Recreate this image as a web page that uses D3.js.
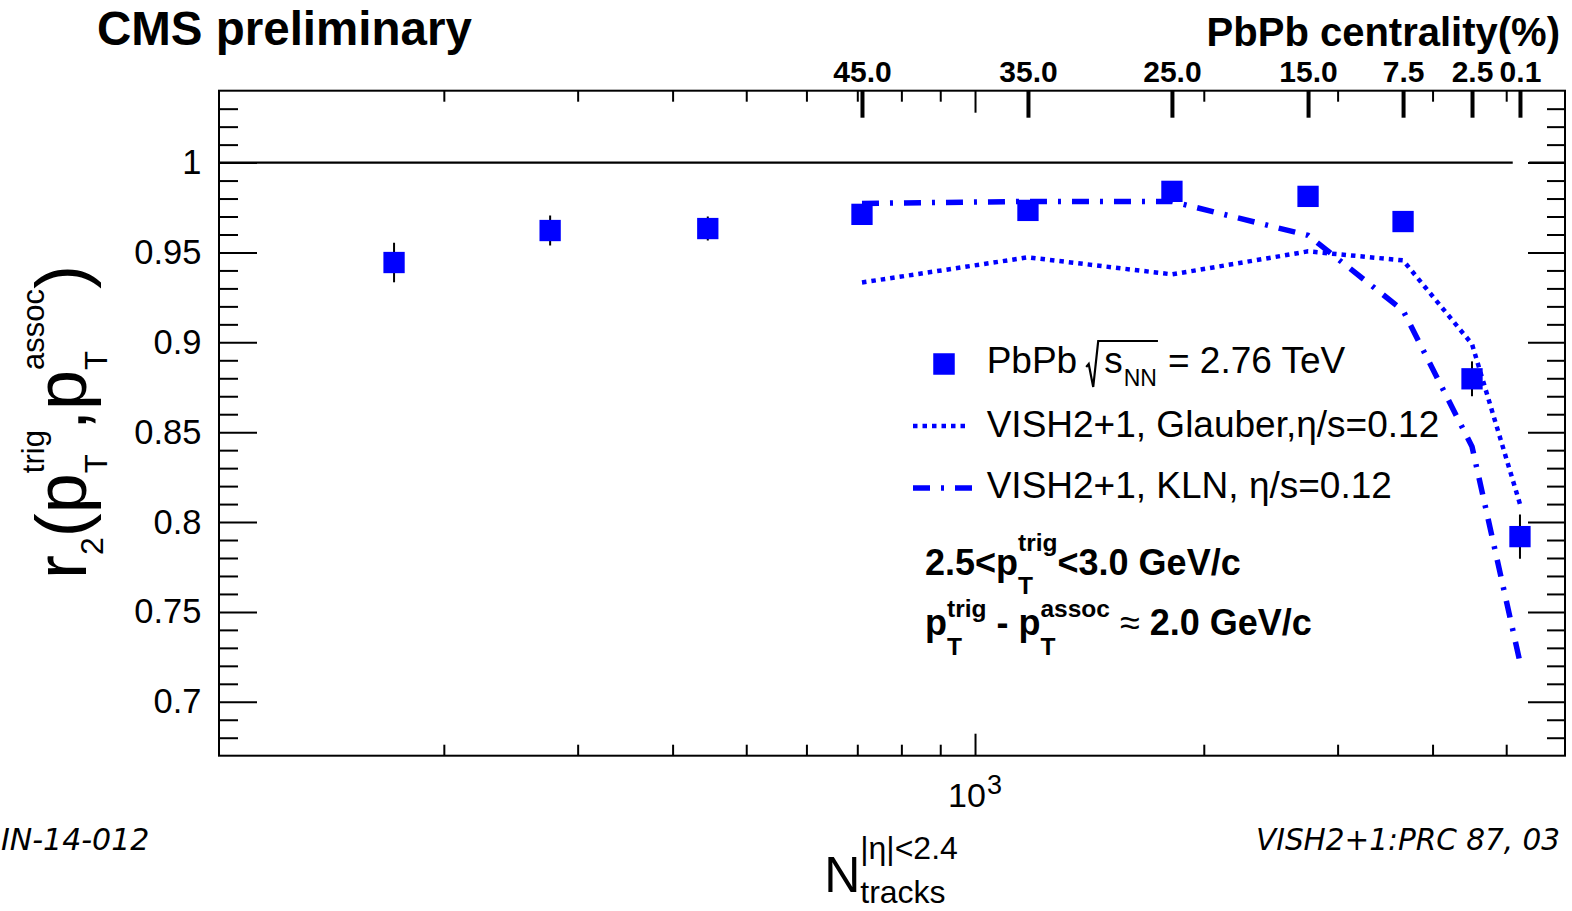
<!DOCTYPE html>
<html><head><meta charset="utf-8">
<script src="https://cdn.jsdelivr.net/npm/d3@7"></script>
<style>html,body{margin:0;padding:0;background:#fff;} svg{display:block;}</style>
</head><body><svg id="c" width="1572" height="911"></svg>
<script>
// ---------------- data ----------------
const nTracks   = [172, 276, 445, 710, 1174, 1816, 2743, 3658, 4508, 5213];
const r2Values  = [0.9444, 0.9622, 0.9633, 0.9712, 0.9734, 0.9840, 0.9812, 0.9672, 0.8797, 0.7919];
const r2Errors  = [0.011, 0.0083, 0.0067, 0.004, 0.004, 0.004, 0.004, 0.004, 0.0097, 0.0123];
const modelN        = [710, 1174, 1816, 2743, 3658, 4508, 5213];
const glauberValues = [0.9333, 0.9473, 0.9378, 0.9506, 0.9456, 0.899, 0.810];
const klnValues     = [0.9773, 0.9784, 0.9784, 0.9595, 0.9177, 0.842, 0.722];
const centralityN      = [710, 1174, 1816, 2743, 3658, 4508, 5213];
const centralityLabels = ["45.0", "35.0", "25.0", "15.0", "7.5", "2.5", "0.1"];
const xMinorTicks = [200, 300, 400, 500, 600, 700, 800, 900, 2000, 3000, 4000, 5000];
const xMajorTicks = [1000];
const yMajorTicks = [0.7, 0.75, 0.8, 0.85, 0.9, 0.95, 1];
const yTickLabels = ["0.7", "0.75", "0.8", "0.85", "0.9", "0.95", "1"];
const yMinorTicks = d3.range(68, 104).filter(v => v % 5 !== 0).map(v => v / 100);
const xDomain = [101.2, 5975];
const yDomain = [0.67, 1.04];
const unitySegments = [[101.2, 5100], [5360, 5975]];

// ---------------- layout ----------------
const FONT = '"Liberation Sans", Arial, Helvetica, sans-serif';
const FOOT = '"DejaVu Sans", sans-serif';
const BLUE = '#0000ff';
const L = 219, R = 1565, T = 90.7, B = 755.7;
const svg = d3.select('#c');
svg.append('rect').attr('width', 1572).attr('height', 911).attr('fill', '#fff');

const x = d3.scaleLog().domain(xDomain).range([L, R]);
const y = d3.scaleLinear().domain(yDomain).range([B, T]);

svg.append('clipPath').attr('id', 'plot').append('rect')
  .attr('x', L).attr('y', T).attr('width', R - L).attr('height', B - T);

function styleAxis(g, sw) {
  g.select('.domain').remove();
  g.attr('font-size', null).attr('font-family', null);
  g.selectAll('line').attr('stroke', '#000').attr('stroke-width', sw);
}

// bottom + top mirrored ticks
svg.append('g').attr('transform', `translate(0,${B})`)
  .call(d3.axisBottom(x).tickValues(xMinorTicks).tickSize(-11).tickFormat(''))
  .call(g => styleAxis(g, 2));
svg.append('g').attr('transform', `translate(0,${B})`)
  .call(d3.axisBottom(x).tickValues(xMajorTicks).tickSize(-22).tickFormat(''))
  .call(g => styleAxis(g, 2));
svg.append('g').attr('transform', `translate(0,${T})`)
  .call(d3.axisTop(x).tickValues(xMinorTicks).tickSize(-11).tickFormat(''))
  .call(g => styleAxis(g, 2));
svg.append('g').attr('transform', `translate(0,${T})`)
  .call(d3.axisTop(x).tickValues(xMajorTicks).tickSize(-22).tickFormat(''))
  .call(g => styleAxis(g, 2));
// centrality axis
svg.append('g').attr('transform', `translate(0,${T})`)
  .call(d3.axisTop(x).tickValues(centralityN).tickSize(-27).tickPadding(9)
    .tickFormat((d, i) => centralityLabels[i]))
  .call(g => styleAxis(g, 4))
  .call(g => g.selectAll('text').attr('font-family', FONT).attr('font-weight', 'bold')
    .attr('font-size', 30).attr('fill', '#000'));

// left / right
svg.append('g').attr('transform', `translate(${L},0)`)
  .call(d3.axisLeft(y).tickValues(yMinorTicks).tickSize(-19).tickFormat(''))
  .call(g => styleAxis(g, 2));
svg.append('g').attr('transform', `translate(${L},0)`)
  .call(d3.axisLeft(y).tickValues(yMajorTicks).tickSize(-38).tickPadding(17.5)
    .tickFormat((d, i) => yTickLabels[i]))
  .call(g => styleAxis(g, 2))
  .call(g => g.selectAll('text').attr('font-family', FONT).attr('font-size', 34.5).attr('fill', '#000'));
svg.append('g').attr('transform', `translate(${R},0)`)
  .call(d3.axisRight(y).tickValues(yMinorTicks).tickSize(-18).tickFormat(''))
  .call(g => styleAxis(g, 2));
svg.append('g').attr('transform', `translate(${R},0)`)
  .call(d3.axisRight(y).tickValues(yMajorTicks).tickSize(-37).tickFormat(''))
  .call(g => styleAxis(g, 2));

// frame
svg.append('rect').attr('x', L).attr('y', T).attr('width', R - L).attr('height', B - T)
  .attr('fill', 'none').attr('stroke', '#000').attr('stroke-width', 2);

// y = 1 line
const plot = svg.append('g').attr('clip-path', 'url(#plot)');
unitySegments.forEach(s => {
  plot.append('line').attr('x1', x(s[0])).attr('x2', x(s[1]))
    .attr('y1', y(1)).attr('y2', y(1)).attr('stroke', '#000').attr('stroke-width', 2.2);
});

// model curves
const line = d3.line().x(d => x(d[0])).y(d => y(d[1]));
plot.append('path').datum(modelN.map((n, i) => [n, glauberValues[i]]))
  .attr('d', line).attr('fill', 'none').attr('stroke', BLUE)
  .attr('stroke-width', 4.5).attr('stroke-dasharray', '4.5,5');
plot.append('path').datum(modelN.map((n, i) => [n, klnValues[i]]))
  .attr('d', line).attr('fill', 'none').attr('stroke', BLUE)
  .attr('stroke-width', 5.5).attr('stroke-dasharray', '17,11,3,11');

// data points
const pts = nTracks.map((n, i) => ({n, v: r2Values[i], e: r2Errors[i]}));
plot.selectAll('line.err').data(pts).join('line').attr('class', 'err')
  .attr('x1', d => x(d.n)).attr('x2', d => x(d.n))
  .attr('y1', d => y(d.v - d.e)).attr('y2', d => y(d.v + d.e))
  .attr('stroke', '#000').attr('stroke-width', 2);
const MS = 21.3;
plot.selectAll('rect.pt').data(pts).join('rect').attr('class', 'pt')
  .attr('x', d => x(d.n) - MS / 2).attr('y', d => y(d.v) - MS / 2)
  .attr('width', MS).attr('height', MS).attr('fill', BLUE);

// ---------------- rich text helper ----------------
function drawRich(parent, px, py, items, base) {
  const g = parent.append('g').attr('transform', `translate(${px},${py})`);
  let cx = 0;
  const add = (p, at) => {
    const t = g.append('text').attr('x', at).attr('y', p.dy || 0)
      .attr('font-size', p.size || base.size)
      .attr('font-weight', p.weight || base.weight || 'normal')
      .attr('font-style', p.style || base.style || 'normal')
      .attr('font-family', p.family || base.family || FONT)
      .attr('fill', '#000')
      .style('white-space', 'pre')
      .text(p.t);
    return t.node().getComputedTextLength();
  };
  for (const it of items) {
    cx += it.pre || 0;
    if (it.stack) {
      const w = Math.max(...it.stack.map(p => add(p, cx)));
      cx += w + (it.gap || 0);
    } else {
      cx += add(it, cx) + (it.gap || 0);
    }
  }
  return {g, width: cx, x: px, y: py};
}
function center(r) { r.g.attr('transform', `translate(${r.x - r.width / 2},${r.y})`); }

// titles
svg.append('text').attr('x', 97).attr('y', 45).attr('font-family', FONT)
  .attr('font-weight', 'bold').attr('font-size', 47.5).text('CMS preliminary');
svg.append('text').attr('x', 1560).attr('y', 46).attr('text-anchor', 'end').attr('font-family', FONT)
  .attr('font-weight', 'bold').attr('font-size', 40).text('PbPb centrality(%)');

// x tick label 10^3
center(drawRich(svg, x(1000), 807, [{t: '10'}, {t: '3', size: 27, dy: -13, pre: 1}], {size: 34}));

// x title
center(drawRich(svg, 891, 892, [
  {t: 'N'},
  {stack: [{t: '|η|<2.4', size: 32, dy: -33}, {t: 'tracks', size: 32, dy: 11}]}
], {size: 50}));

// y title (rotated)
const yt = svg.append('g').attr('transform', 'translate(86,422) rotate(-90)');
center(drawRich(yt, 0, 0, [
  {t: 'r'}, {t: '2', size: 32, dy: 17}, {t: '('}, {t: 'p'},
  {stack: [{t: 'trig', size: 31, dy: -42}, {t: 'T', size: 31, dy: 21}]},
  {t: ','}, {t: 'p'},
  {stack: [{t: 'assoc', size: 31, dy: -42}, {t: 'T', size: 31, dy: 21}]},
  {t: ')'}
], {size: 72}));

// ---------------- legend ----------------
svg.append('rect').attr('x', 944 - 10.75).attr('y', 364 - 10.75).attr('width', 21.5).attr('height', 21.5).attr('fill', BLUE);
{
  let cx = 986.7;
  const t1 = svg.append('text').attr('x', cx).attr('y', 373.3).attr('font-family', FONT)
    .attr('font-size', 37).text('PbPb');
  cx += t1.node().getComputedTextLength() + 9;
  const r0 = cx;
  const ts = svg.append('text').attr('x', r0 + 18).attr('y', 373.3).attr('font-family', FONT)
    .attr('font-size', 37).text('s');
  const sEnd = r0 + 18 + ts.node().getComputedTextLength();
  const tn = svg.append('text').attr('x', sEnd + 1).attr('y', 386).attr('font-family', FONT)
    .attr('font-size', 23).text('NN');
  const nEnd = sEnd + 1 + tn.node().getComputedTextLength();
  svg.append('path')
    .attr('d', `M${r0},367 L${r0 + 2.5},364 L${r0 + 7},387 L${r0 + 12},341 L${nEnd + 1},341`)
    .attr('fill', 'none').attr('stroke', '#000').attr('stroke-width', 2.2).attr('stroke-linejoin', 'miter');
  svg.append('text').attr('x', nEnd + 11).attr('y', 373.3).attr('font-family', FONT)
    .attr('font-size', 37).text('= 2.76 TeV');
}
svg.append('line').attr('x1', 913).attr('x2', 968).attr('y1', 426).attr('y2', 426)
  .attr('stroke', BLUE).attr('stroke-width', 4.5).attr('stroke-dasharray', '4.5,5');
svg.append('text').attr('x', 986.7).attr('y', 436.7).attr('font-family', FONT)
  .attr('font-size', 37).text('VISH2+1, Glauber,η/s=0.12');
svg.append('line').attr('x1', 913).attr('x2', 972).attr('y1', 488).attr('y2', 488)
  .attr('stroke', BLUE).attr('stroke-width', 5.5).attr('stroke-dasharray', '17,11,3,11');
svg.append('text').attr('x', 986.7).attr('y', 498.3).attr('font-family', FONT)
  .attr('font-size', 37).text('VISH2+1, KLN, η/s=0.12');

drawRich(svg, 925, 575, [
  {t: '2.5<p'},
  {stack: [{t: 'trig', size: 24.5, dy: -24}, {t: 'T', size: 24.5, dy: 19}]},
  {t: '<3.0 GeV/c'}
], {size: 36, weight: 'bold'});
drawRich(svg, 925, 635, [
  {t: 'p'},
  {stack: [{t: 'trig', size: 24.5, dy: -18}, {t: 'T', size: 24.5, dy: 20}]},
  {t: ' - p'},
  {stack: [{t: 'assoc', size: 24.5, dy: -18}, {t: 'T', size: 24.5, dy: 20}]},
  {t: ' ≈ ', weight: 'normal'},
  {t: '2.0 GeV/c'}
], {size: 36, weight: 'bold'});

// footers
svg.append('text').attr('x', 1).attr('y', 850).attr('font-family', FOOT)
  .attr('font-style', 'oblique').attr('font-size', 30).text('IN-14-012');
svg.append('text').attr('x', 1256).attr('y', 850).attr('font-family', FOOT)
  .attr('font-style', 'oblique').attr('font-size', 29.5).text('VISH2+1:PRC 87, 03');
</script></body></html>
